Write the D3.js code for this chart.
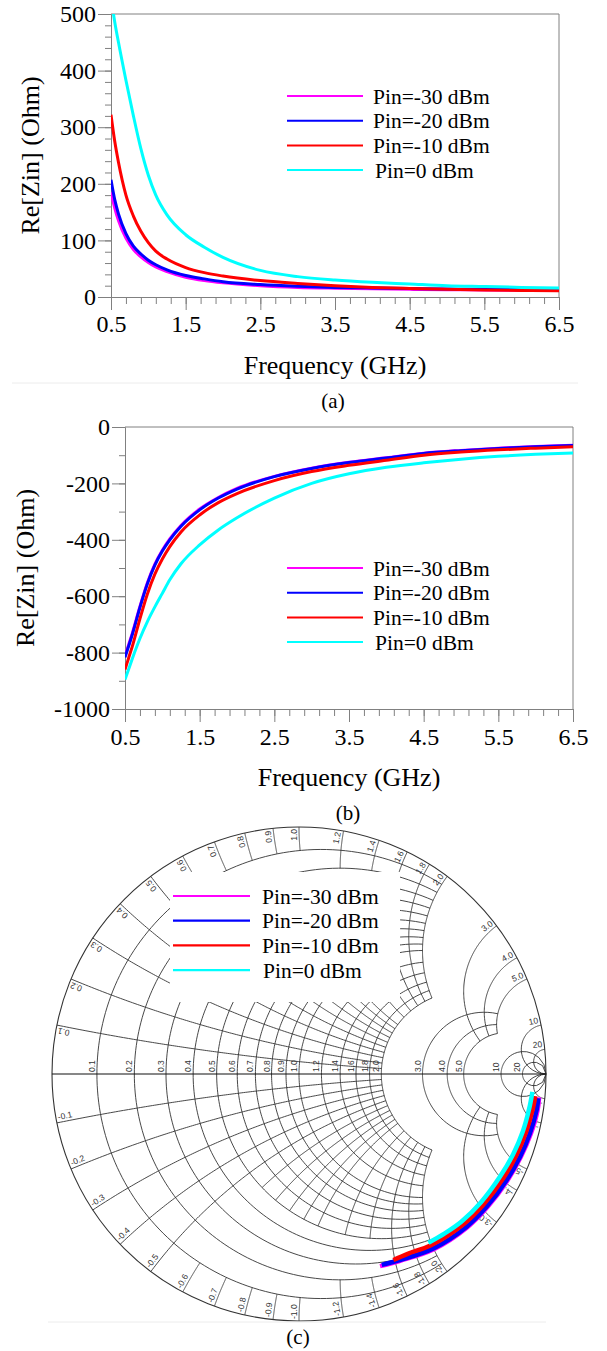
<!DOCTYPE html>
<html>
<head>
<meta charset="utf-8">
<script src="https://cdn.jsdelivr.net/npm/d3@7"></script>
<style>
  body { margin: 0; background: #fff; }
  .serif { font-family: "Liberation Serif", "Times New Roman", serif; }
  .sans { font-family: "Liberation Sans", Arial, sans-serif; }
</style>
</head>
<body>
<div id="chart"></div>
<script>
// ---- data ----
const freq = [0.5, 0.55, 0.6, 0.7, 0.8, 0.9, 1.0, 1.1, 1.25, 1.5, 1.75, 2.0, 2.5, 3.0, 3.5, 4.0, 4.5, 5.0, 5.5, 6.0, 6.5];
const seriesNames = ["Pin=-30 dBm", "Pin=-20 dBm", "Pin=-10 dBm", "Pin=0 dBm"];
const seriesColors = ["#ff00ff", "#0000ff", "#ff0000", "#00ffff"];

// panel (a)
const reM30 = [185, 157, 135, 104, 84, 71, 61, 53, 45, 35, 29, 25, 20, 17, 15.5, 14.5, 13.5, 13, 12.5, 12, 12];
const reM20 = [207, 172, 147, 112, 90, 76, 65, 57, 48, 38, 32, 27, 22, 19, 17, 16, 15, 14, 13.5, 13, 13];
const reM10 = [322, 275, 238, 180, 143, 116, 96, 81, 67, 52, 43, 37, 29, 24, 20, 17, 15, 13.5, 12.5, 11.5, 11];
const re0   = [530, 486, 450, 383, 320, 262, 215, 180, 145, 110, 88, 70, 47, 36, 30, 26, 23, 20, 18.5, 17, 16];

// panel (b)
const imM30 = [-812, -771, -729, -636, -552, -486, -437, -397, -349, -291, -250, -218, -175, -146, -125, -109, -93, -83, -75, -69, -65];
const imM20 = [-817, -776, -734, -640, -556, -490, -440, -400, -352, -294, -252, -220, -176, -147, -126, -110, -94, -84, -76, -70, -66];
const imM10 = [-860, -818, -776, -680, -592, -522, -468, -424, -372, -312, -268, -236, -190, -158, -136, -118, -100, -89, -81, -75, -70];
const im0   = [-895, -858, -820, -750, -690, -638, -590, -542, -485, -418, -365, -322, -252, -200, -166, -143, -127, -114, -104, -97, -92];

const xTicks = [0.5, 1.5, 2.5, 3.5, 4.5, 5.5, 6.5];
const yTicksA = [0, 100, 200, 300, 400, 500];
const yTicksB = [-1000, -800, -600, -400, -200, 0];

// panel (c): reflection coefficient traces (real / imag)
const gReM30 = [0.328, 0.410, 0.546, 0.682, 0.763, 0.844, 0.898, 0.939, 0.966, 0.972];
const gImM30 = [-0.778, -0.756, -0.709, -0.620, -0.539, -0.431, -0.336, -0.241, -0.147, -0.095];
const gReM20 = [0.335, 0.409, 0.544, 0.679, 0.760, 0.841, 0.895, 0.935, 0.962, 0.969];
const gImM20 = [-0.773, -0.753, -0.706, -0.618, -0.537, -0.429, -0.335, -0.240, -0.146, -0.098];
const gReM10 = [0.382, 0.440, 0.534, 0.667, 0.747, 0.827, 0.880, 0.919, 0.946, 0.957];
const gImM10 = [-0.753, -0.728, -0.693, -0.607, -0.528, -0.422, -0.329, -0.236, -0.144, -0.090];
const gRe0   = [0.524, 0.590, 0.657, 0.736, 0.814, 0.867, 0.906, 0.932, 0.945];
const gIm0   = [-0.683, -0.645, -0.598, -0.520, -0.415, -0.325, -0.233, -0.140, -0.072];

// Smith grid values
const smithR = [0.1, 0.2, 0.3, 0.4, 0.5, 0.6, 0.7, 0.8, 0.9, 1.0, 1.2, 1.4, 1.6, 1.8, 2.0, 3.0, 4.0, 5.0, 10, 20];
const smithX = [0.1, 0.2, 0.3, 0.4, 0.5, 0.6, 0.7, 0.8, 0.9, 1.0, 1.2, 1.4, 1.6, 1.8, 2.0, 3.0, 4.0, 5.0, 10, 20];

// ---- drawing ----
const W = 607, H = 1351;
const AX = "#808080";

const svg = d3.select("#chart").append("svg")
  .attr("xmlns", "http://www.w3.org/2000/svg")
  .attr("width", W)
  .attr("height", H)
  .attr("viewBox", `0 0 ${W} ${H}`);

svg.append("rect").attr("width", W).attr("height", H).attr("fill", "#fff");

const styleAxis = g => {
  g.attr("font-family", null).attr("font-size", null);
  g.selectAll("path, line").attr("stroke", AX);
  g.selectAll("text").attr("class", "serif").attr("font-size", 24).attr("fill", "#000");
};

function drawPanel(cfg) {
  const x = d3.scaleLinear().domain([0.5, 6.5]).range([cfg.left, cfg.right]);
  const y = d3.scaleLinear().domain(cfg.yDomain).range([cfg.bottom, cfg.top]);

  // frame top/right
  svg.append("path")
    .attr("d", `M${cfg.left},${cfg.top}H${cfg.right}V${cfg.bottom}`)
    .attr("fill", "none")
    .attr("stroke", AX);

  // minor ticks
  svg.append("g")
    .attr("transform", `translate(${cfg.left},0)`)
    .call(d3.axisLeft(y).tickValues(d3.range(cfg.yDomain[0], cfg.yDomain[1], cfg.yMinor)).tickSize(6).tickSizeOuter(0).tickFormat(""))
    .call(styleAxis);
  svg.append("g")
    .attr("transform", `translate(0,${cfg.bottom})`)
    .call(d3.axisBottom(x).tickValues(d3.range(0.5, 6.5, 0.2)).tickSize(7).tickSizeOuter(0).tickFormat(""))
    .call(styleAxis);

  // major ticks
  svg.append("g")
    .attr("transform", `translate(${cfg.left},0)`)
    .call(d3.axisLeft(y).tickValues(cfg.yTicks).tickSize(13).tickPadding(2).tickSizeOuter(0).tickFormat(d => String(d)))
    .call(styleAxis);
  svg.append("g")
    .attr("transform", `translate(0,${cfg.bottom})`)
    .call(d3.axisBottom(x).tickValues(xTicks).tickSize(13).tickPadding(cfg.xPad).tickSizeOuter(0).tickFormat(d3.format(".1f")))
    .call(styleAxis);

  // clip
  const clipId = "clip" + cfg.id;
  svg.append("clipPath").attr("id", clipId)
    .append("rect")
    .attr("x", cfg.left).attr("y", cfg.top)
    .attr("width", cfg.right - cfg.left).attr("height", cfg.bottom - cfg.top);

  const line = d3.line()
    .x(d => x(d[0]))
    .y(d => y(d[1]))
    .curve(d3.curveMonotoneX);

  cfg.series.forEach((vals, i) => {
    svg.append("path")
      .datum(d3.zip(freq, vals))
      .attr("clip-path", `url(#${clipId})`)
      .attr("fill", "none")
      .attr("stroke", seriesColors[i])
      .attr("stroke-width", 3)
      .attr("d", line);
  });

  // legend
  seriesNames.forEach((name, i) => {
    const ly = cfg.legendY + i * 24.7;
    svg.append("line")
      .attr("x1", cfg.legendX).attr("x2", cfg.legendX + 76)
      .attr("y1", ly).attr("y2", ly)
      .attr("stroke", seriesColors[i]).attr("stroke-width", 2);
    svg.append("text")
      .attr("class", "serif")
      .attr("x", cfg.legendX + 86 + (i === 3 ? 2 : 0))
      .attr("y", ly)
      .attr("dy", "0.35em")
      .attr("font-size", 21.5)
      .text(name);
  });

  // axis titles
  svg.append("text")
    .attr("class", "serif")
    .attr("transform", `translate(${cfg.yTitleX},${(cfg.top + cfg.bottom) / 2}) rotate(-90)`)
    .attr("text-anchor", "middle")
    .attr("dy", "0.35em")
    .attr("font-size", 26)
    .text("Re[Zin] (Ohm)");
  svg.append("text")
    .attr("class", "serif")
    .attr("x", (cfg.left + cfg.right) / 2)
    .attr("y", cfg.xTitleY)
    .attr("text-anchor", "middle")
    .attr("font-size", 26)
    .text("Frequency (GHz)");
}

drawPanel({
  id: "a", left: 111, right: 559, top: 14, bottom: 297,
  yDomain: [0, 500], yTicks: yTicksA, yMinor: 20, xPad: 5,
  series: [reM30, reM20, reM10, re0],
  legendX: 287, legendY: 96, yTitleX: 30, xTitleY: 374
});

drawPanel({
  id: "b", left: 125, right: 573, top: 427, bottom: 709,
  yDomain: [-1000, 0], yTicks: yTicksB, yMinor: 100, xPad: 6,
  series: [imM30, imM20, imM10, im0],
  legendX: 287, legendY: 568, yTitleX: 25, xTitleY: 786
});

// ---- Smith chart ----
const cx = 299, cy = 1074, R = 247;
const gx = d3.scaleLinear().domain([-1, 1]).range([cx - R, cx + R]);
const gy = d3.scaleLinear().domain([-1, 1]).range([cy + R, cy - R]);
const toG = (r, x) => {
  const d = (r + 1) * (r + 1) + x * x;
  return [(r * r + x * x - 1) / d, 2 * x / d];
};
const gLine = d3.line().x(p => gx(p[0])).y(p => gy(p[1]));
const N = 160;
const rArc = (r, x1, x2) => {
  const t1 = Math.atan(x1), t2 = Math.atan(x2);
  return d3.range(N + 1).map(i => toG(r, Math.tan(t1 + (t2 - t1) * i / N)));
};
const xArc = (x, r1, r2) => {
  const t1 = Math.atan(r1), t2 = Math.atan(r2);
  return d3.range(N + 1).map(i => toG(Math.tan(t1 + (t2 - t1) * i / N), x));
};

// extent of each grid line (graded grid)
const reach = v => v <= 2 ? 2 : (v <= 5 ? 5 : Infinity);

const grid = svg.append("g")
  .attr("fill", "none")
  .attr("stroke", "#333")
  .attr("stroke-width", 0.9);

smithR.forEach(r => {
  grid.append("path").attr("d", gLine(rArc(r, -reach(r), reach(r))));
});
smithX.forEach(x => {
  // near the rim the 0.6..1.4 arcs only run through the outer band
  const segs = (x >= 0.6 && x <= 1.0) ? [[0, 0.1], [0.5, reach(x)]]
    : (x >= 1.2 && x <= 1.4) ? [[0, 0.2], [0.5, reach(x)]]
    : [[0, reach(x)]];
  segs.forEach(s => {
    grid.append("path").attr("d", gLine(xArc(x, s[0], s[1])));
    grid.append("path").attr("d", gLine(xArc(-x, s[0], s[1])));
  });
});

// rim + real axis
svg.append("circle")
  .attr("cx", cx).attr("cy", cy).attr("r", R)
  .attr("fill", "none").attr("stroke", "#333").attr("stroke-width", 1.1);
svg.append("line")
  .attr("x1", gx(-1)).attr("x2", gx(1))
  .attr("y1", gy(0)).attr("y2", gy(0))
  .attr("stroke", "#111").attr("stroke-width", 1.1);

const fmtS = v => (Math.abs(v) >= 10 ? String(Math.round(v)) : v.toFixed(1));

// resistance labels along real axis
smithR.forEach(r => {
  const px = gx(toG(r, 0)[0]);
  svg.append("text")
    .attr("class", "sans")
    .attr("transform", `translate(${px - 2},${cy - 2}) rotate(-90)`)
    .attr("font-size", 8.5).attr("fill", "#333")
    .text(fmtS(r));
});

// reactance labels around rim
smithX.forEach(v => {
  [v, -v].forEach(x => {
    const p = toG(0, x);
    const th = Math.atan2(p[1], p[0]);
    const side = x > 0 ? 1 : -1;
    const th2 = th + side * (2.5 / R);
    const rr = R - 2;
    const px = cx + rr * Math.cos(th2), py = cy - rr * Math.sin(th2);
    const deg = x > 0 ? -th * 180 / Math.PI : -(th + Math.PI) * 180 / Math.PI;
    svg.append("text")
      .attr("class", "sans")
      .attr("transform", `translate(${px},${py}) rotate(${deg})`)
      .attr("text-anchor", x > 0 ? "end" : "start")
      .attr("font-size", 8.5).attr("fill", "#333")
      .text(fmtS(x));
  });
});

// traces
const gSeries = [[gReM30, gImM30], [gReM20, gImM20], [gReM10, gImM10], [gRe0, gIm0]];
const traceLine = d3.line().x(p => gx(p[0])).y(p => gy(p[1])).curve(d3.curveCatmullRom);
gSeries.forEach((s, i) => {
  svg.append("path")
    .datum(d3.zip(s[0], s[1]))
    .attr("fill", "none")
    .attr("stroke", seriesColors[i])
    .attr("stroke-width", 4.5)
    .attr("d", traceLine);
});

// legend box on smith chart
svg.append("rect")
  .attr("x", 170).attr("y", 872).attr("width", 230).attr("height", 130)
  .attr("fill", "#fff");
seriesNames.forEach((name, i) => {
  const ly = 896 + i * 24.7;
  svg.append("line")
    .attr("x1", 173).attr("x2", 250)
    .attr("y1", ly).attr("y2", ly)
    .attr("stroke", seriesColors[i]).attr("stroke-width", 2.2);
  svg.append("text")
    .attr("class", "serif")
    .attr("x", 262 + (i === 3 ? 1 : 0)).attr("y", ly).attr("dy", "0.35em")
    .attr("font-size", 21.5)
    .text(name);
});

// separators and panel captions
[[12, 578, 383], [48, 546, 1322]].forEach(s => {
  svg.append("line")
    .attr("x1", s[0]).attr("x2", s[1]).attr("y1", s[2]).attr("y2", s[2])
    .attr("stroke", "#ececec").attr("stroke-width", 1);
});
[["(a)", 333, 408], ["(b)", 348, 820], ["(c)", 298, 1344]].forEach(c => {
  svg.append("text")
    .attr("class", "serif")
    .attr("x", c[1]).attr("y", c[2])
    .attr("text-anchor", "middle")
    .attr("font-size", 21)
    .text(c[0]);
});
</script>
</body>
</html>
